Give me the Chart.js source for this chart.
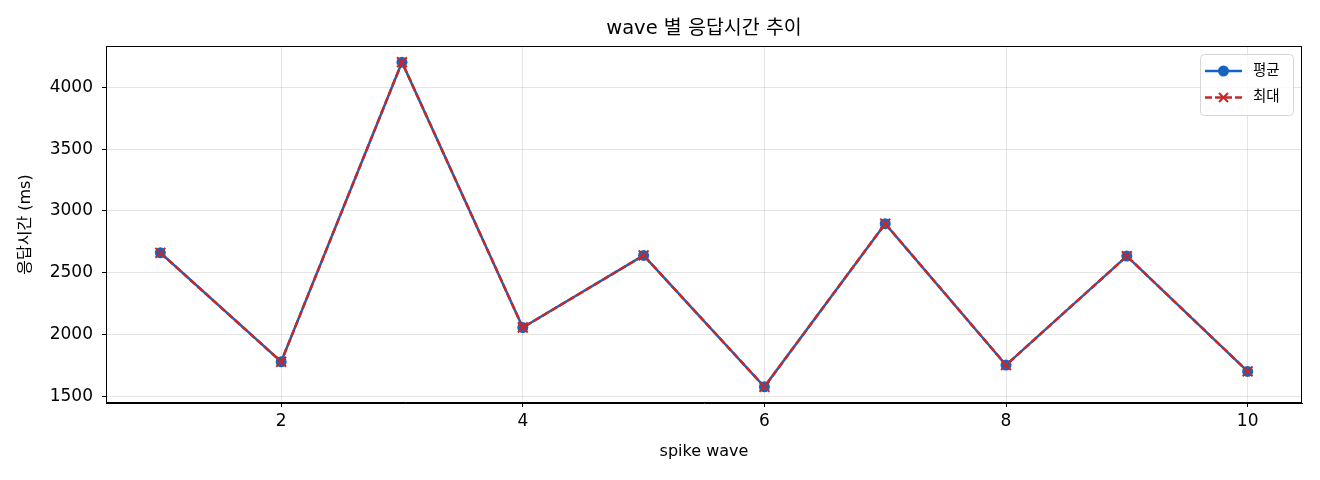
<!DOCTYPE html>
<html>
<head>
<meta charset="utf-8">
<script src="https://cdn.jsdelivr.net/npm/chart.js@4"></script>
<style>
  body { margin: 0; background: #fff; }
  #wrap { width: 1320px; height: 480px; }
</style>
</head>
<body>
<div id="wrap"><canvas id="myChart"></canvas></div>
<script>
const FONT = '"DejaVu Sans", "Noto Sans CJK KR", sans-serif';

// data
const waves = [1, 2, 3, 4, 5, 6, 7, 8, 9, 10];
const avgMs = [2661, 1779, 4204, 2056, 2640, 1576, 2897, 1752, 2634, 1701];
const maxMs = [2661, 1779, 4204, 2056, 2640, 1576, 2897, 1752, 2634, 1701];
const xTicks = [2, 4, 6, 8, 10];
const yTicks = [1500, 2000, 2500, 3000, 3500, 4000];
const seriesNames = ['평균', '최대'];
const titleText = 'wave 별 응답시간 추이';

const blue = '#1565c0';
const red = '#c62828';

function pts(vals) {
  return waves.map((w, i) => ({ x: w, y: vals[i] }));
}

// title over the plot area, spines on top / right, legend box upper right
const frame = {
  id: 'frame',
  afterDraw(chart) {
    const { ctx, chartArea: a } = chart;
    ctx.save();
    ctx.strokeStyle = '#000';
    ctx.lineWidth = 1;
    ctx.strokeRect(a.left + 0.5, a.top + 0.5, a.right - a.left - 1, a.bottom - a.top - 1);

    ctx.fillStyle = '#000';
    ctx.font = '19.5px ' + FONT;
    ctx.textAlign = 'center';
    ctx.textBaseline = 'middle';
    ctx.fillText(titleText, (a.left + a.right) / 2, a.top - 17);

    // legend
    const bx = a.right - 102, by = a.top + 8, bw = 93, bh = 61;
    ctx.beginPath();
    ctx.roundRect(bx + 0.5, by + 0.5, bw, bh, 4);
    ctx.fillStyle = 'rgba(255,255,255,0.8)';
    ctx.fill();
    ctx.strokeStyle = '#d6d6d6';
    ctx.stroke();

    const rows = [by + 17, by + 43.5];
    const x0 = bx + 5, x1 = bx + 42, xm = (x0 + x1) / 2;
    ctx.font = '14.5px ' + FONT;
    ctx.textBaseline = 'middle';
    ctx.textAlign = 'left';

    // 평균
    ctx.strokeStyle = blue;
    ctx.lineWidth = 2.5;
    ctx.setLineDash([]);
    ctx.beginPath(); ctx.moveTo(x0, rows[0]); ctx.lineTo(x1, rows[0]); ctx.stroke();
    ctx.fillStyle = blue;
    ctx.beginPath(); ctx.arc(xm, rows[0], 5.5, 0, Math.PI * 2); ctx.fill();
    ctx.fillStyle = '#000';
    ctx.fillText(seriesNames[0], bx + 53, rows[0]);

    // 최대
    ctx.strokeStyle = red;
    ctx.setLineDash([7, 3]);
    ctx.beginPath(); ctx.moveTo(x0, rows[1]); ctx.lineTo(x1, rows[1]); ctx.stroke();
    ctx.setLineDash([]);
    ctx.lineWidth = 2;
    ctx.beginPath();
    ctx.moveTo(xm - 4.5, rows[1] - 4.5); ctx.lineTo(xm + 4.5, rows[1] + 4.5);
    ctx.moveTo(xm + 4.5, rows[1] - 4.5); ctx.lineTo(xm - 4.5, rows[1] + 4.5);
    ctx.stroke();
    ctx.fillStyle = '#000';
    ctx.fillText(seriesNames[1], bx + 53, rows[1]);
    ctx.restore();
  }
};

const data = {
  datasets: [{
    label: seriesNames[0],
    data: pts(avgMs),
    borderColor: blue,
    backgroundColor: blue,
    borderWidth: 2.5,
    pointStyle: 'circle',
    pointRadius: 5.5,
    pointBorderWidth: 0,
    order: 2
  }, {
    label: seriesNames[1],
    data: pts(maxMs),
    borderColor: red,
    backgroundColor: red,
    borderWidth: 2.5,
    borderDash: [7, 3],
    pointStyle: 'crossRot',
    pointRadius: 7,
    pointBorderWidth: 2,
    order: 1
  }]
};

const config = {
  type: 'line',
  data: data,
  plugins: [frame],
  options: {
    responsive: true,
    maintainAspectRatio: false,
    devicePixelRatio: 1,
    animation: false,
    layout: { padding: { left: 0, right: 18, top: 46, bottom: 0 } },
    plugins: {
      legend: { display: false },
      tooltip: { enabled: false },
      title: { display: false }
    },
    scales: {
      x: {
        type: 'linear',
        min: 0.55,
        max: 10.45,
        afterBuildTicks: (s) => { s.ticks = xTicks.map(v => ({ value: v })); },
        afterFit: (s) => { s.height = 77; },
        ticks: { color: '#000', font: { family: FONT, size: 17 }, padding: 4, maxRotation: 0 },
        grid: { color: 'rgba(0,0,0,0.1)', tickColor: '#000', tickLength: 4 },
        border: { color: '#000', width: 1 },
        title: {
          display: true, text: 'spike wave', color: '#000',
          font: { family: FONT, size: 16 },
          padding: { top: 0, bottom: 19 }
        }
      },
      y: {
        min: 1445,
        max: 4335,
        afterBuildTicks: (s) => { s.ticks = yTicks.map(v => ({ value: v })); },
        afterFit: (s) => { s.width = 106; },
        ticks: {
          color: '#000', font: { family: FONT, size: 17 }, padding: 9,
          callback: (v) => String(v)
        },
        grid: { color: 'rgba(0,0,0,0.1)', tickColor: '#000', tickLength: 4 },
        border: { color: '#000', width: 1 },
        title: {
          display: true, text: '응답시간 (ms)', color: '#000',
          font: { family: FONT, size: 16 },
          padding: { top: 16, bottom: 0 }
        }
      }
    }
  }
};

const myChart = new Chart(document.getElementById('myChart'), config);
</script>
</body>
</html>
